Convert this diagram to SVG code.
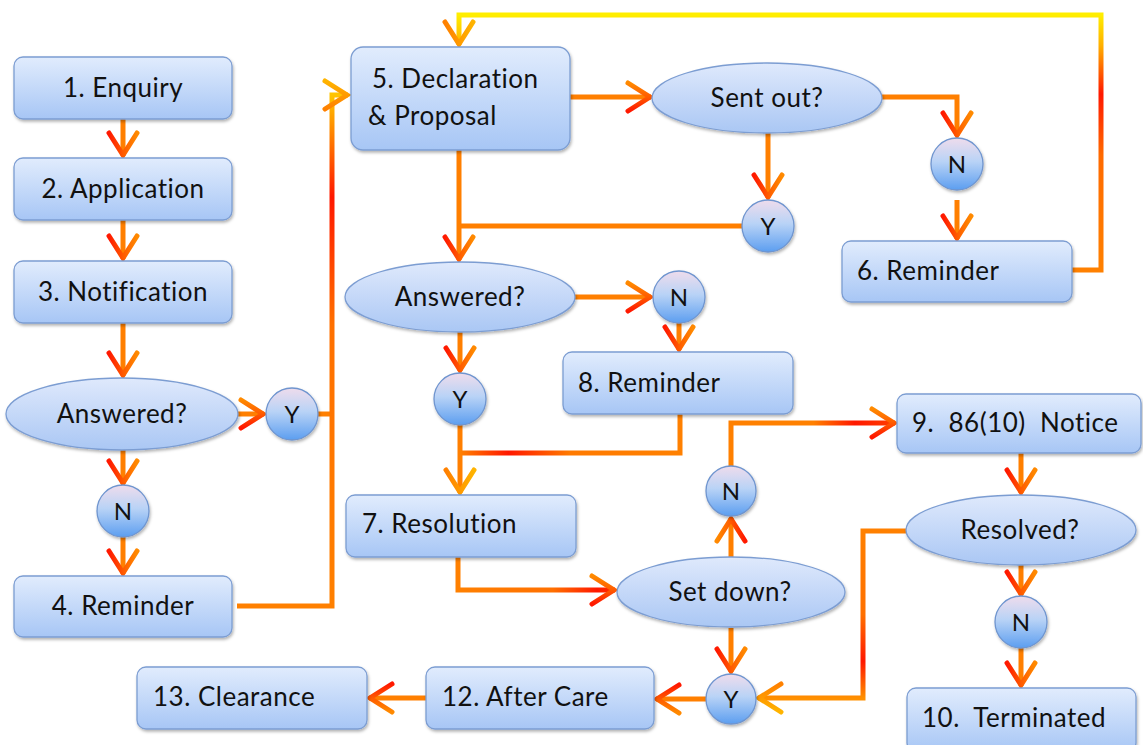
<svg xmlns="http://www.w3.org/2000/svg" width="1143" height="745" viewBox="0 0 1143 745">
<defs>
<linearGradient id="boxG" x1="0" y1="0" x2="0" y2="1">
<stop offset="0" stop-color="#e1ecfd"/><stop offset="1" stop-color="#a7c6f5"/>
</linearGradient>
<linearGradient id="ellG" x1="0" y1="0" x2="0" y2="1">
<stop offset="0" stop-color="#dfe9fc"/><stop offset="1" stop-color="#aac7f4"/>
</linearGradient>
<linearGradient id="cirG" x1="0" y1="0" x2="0" y2="1">
<stop offset="0" stop-color="#efdcec"/><stop offset="0.45" stop-color="#b9d3f6"/><stop offset="1" stop-color="#5c9ef0"/>
</linearGradient>
<linearGradient id="ahg" x1="0" y1="0" x2="0" y2="1">
<stop offset="0" stop-color="#ff8a00"/><stop offset="0.5" stop-color="#ff5a00"/><stop offset="1" stop-color="#ff1800"/>
</linearGradient>
<linearGradient id="ahyg" x1="0" y1="0" x2="0" y2="1">
<stop offset="0" stop-color="#ffb400"/><stop offset="1" stop-color="#ff8000"/>
</linearGradient>
<linearGradient id="gTrunk" gradientUnits="userSpaceOnUse" x1="0" y1="606" x2="0" y2="95">
<stop offset="0" stop-color="#ff8000"/><stop offset="0.55" stop-color="#ff7000"/><stop offset="0.8" stop-color="#ff1800"/><stop offset="0.95" stop-color="#ff9a00"/><stop offset="1" stop-color="#ffc400"/>
</linearGradient>
<linearGradient id="gLoop" gradientUnits="userSpaceOnUse" x1="0" y1="270" x2="0" y2="15">
<stop offset="0" stop-color="#ff8000"/><stop offset="0.45" stop-color="#ff6a00"/><stop offset="0.69" stop-color="#ff1800"/><stop offset="0.88" stop-color="#ffb000"/><stop offset="1" stop-color="#ffee00"/>
</linearGradient>
<linearGradient id="gH8" gradientUnits="userSpaceOnUse" x1="460" y1="0" x2="680" y2="0">
<stop offset="0" stop-color="#ff8000"/><stop offset="0.22" stop-color="#ff1800"/><stop offset="0.5" stop-color="#ff7a00"/><stop offset="1" stop-color="#ff8000"/>
</linearGradient>
<linearGradient id="gH7" gradientUnits="userSpaceOnUse" x1="458" y1="0" x2="616" y2="0">
<stop offset="0" stop-color="#ff8000"/><stop offset="0.6" stop-color="#ff7000"/><stop offset="0.88" stop-color="#ff1800"/><stop offset="1" stop-color="#ff3000"/>
</linearGradient>
<linearGradient id="gH9" gradientUnits="userSpaceOnUse" x1="731" y1="0" x2="896" y2="0">
<stop offset="0" stop-color="#ff8000"/><stop offset="0.5" stop-color="#ff8000"/><stop offset="0.75" stop-color="#ff1800"/><stop offset="1" stop-color="#ff4000"/>
</linearGradient>
<linearGradient id="gRes" gradientUnits="userSpaceOnUse" x1="0" y1="531" x2="0" y2="698">
<stop offset="0" stop-color="#ff8000"/><stop offset="0.5" stop-color="#ff7000"/><stop offset="0.78" stop-color="#ff1800"/><stop offset="1" stop-color="#ff9000"/>
</linearGradient>
<marker id="ah" markerUnits="userSpaceOnUse" markerWidth="40" markerHeight="40" viewBox="-30 -20 40 40" refX="0" refY="0" orient="auto" overflow="visible">
<path d="M-23,-14 L-1,0 L-23,14" fill="none" stroke="url(#ahg)" stroke-width="5" stroke-linejoin="miter" stroke-linecap="round"/>
</marker>
<marker id="ahy" markerUnits="userSpaceOnUse" markerWidth="40" markerHeight="40" viewBox="-30 -20 40 40" refX="0" refY="0" orient="auto" overflow="visible">
<path d="M-23,-14 L-1,0 L-23,14" fill="none" stroke="url(#ahyg)" stroke-width="5" stroke-linejoin="miter" stroke-linecap="round"/>
</marker>
<filter id="sh" x="-10%" y="-10%" width="120%" height="130%">
<feDropShadow dx="1" dy="2" stdDeviation="1.5" flood-color="#000" flood-opacity="0.3"/>
</filter>
</defs>
<style>
.box{fill:url(#boxG);stroke:#7c9dd2;stroke-width:1.3;filter:url(#sh)}
.ell{fill:url(#ellG);stroke:#7c9dd2;stroke-width:1.3;filter:url(#sh)}
.cir{fill:url(#cirG);stroke:#6f95cf;stroke-width:1.3;filter:url(#sh)}
text{font-family:Lato,"Liberation Sans",sans-serif;font-size:26px;letter-spacing:0.5px;fill:#111}
.c{text-anchor:middle}
.k{font-size:24px;letter-spacing:0}
.con{fill:none;stroke:#ff7f00;stroke-width:5;stroke-linejoin:miter}
</style>
<rect width="1143" height="745" fill="#ffffff"/>
<g id="connectors">
<path class="con" d="M123,119 V156" marker-end="url(#ah)"/>
<path class="con" d="M123,220 V259" marker-end="url(#ah)"/>
<path class="con" d="M123,323 V376" marker-end="url(#ah)"/>
<path class="con" d="M238,414 H264" marker-end="url(#ah)"/>
<path class="con" d="M123,450 V484" marker-end="url(#ah)"/>
<path class="con" d="M123,537 V574" marker-end="url(#ah)"/>
<path class="con" d="M318,414 H332"/>
<path class="con" d="M237,606 H332 V95 H348" style="stroke:url(#gTrunk)" marker-end="url(#ahy)"/>
<path class="con" d="M570,97 H651" marker-end="url(#ah)"/>
<path class="con" d="M768,133 V198" marker-end="url(#ah)"/>
<path class="con" d="M882,97 H957 V136" marker-end="url(#ah)"/>
<path class="con" d="M957,200 V239" marker-end="url(#ah)"/>
<path class="con" d="M1072,270 H1101 V15 H459 V45" style="stroke:url(#gLoop)" marker-end="url(#ahy)"/>
<path class="con" d="M459,150 V260" marker-end="url(#ah)"/>
<path class="con" d="M742,226 H459"/>
<path class="con" d="M575,297 H651" marker-end="url(#ah)"/>
<path class="con" d="M679,323 V350" marker-end="url(#ah)"/>
<path class="con" d="M460,332 V371" marker-end="url(#ah)"/>
<path class="con" d="M460,425 V493" marker-end="url(#ahy)"/>
<path class="con" d="M680,414 V453 H460" style="stroke:url(#gH8)"/>
<path class="con" d="M458,557 V590 H615" style="stroke:url(#gH7)" marker-end="url(#ah)"/>
<path class="con" d="M731,557 V518" marker-end="url(#ah)"/>
<path class="con" d="M731,466 V423 H895" style="stroke:url(#gH9)" marker-end="url(#ah)"/>
<path class="con" d="M1021,453 V493" marker-end="url(#ah)"/>
<path class="con" d="M1021,565 V595" marker-end="url(#ah)"/>
<path class="con" d="M1021,648 V686" marker-end="url(#ah)"/>
<path class="con" d="M906,531 H863 V698 H758" style="stroke:url(#gRes)" marker-end="url(#ahy)"/>
<path class="con" d="M731,628 V672" marker-end="url(#ah)"/>
<path class="con" d="M706,699 H656" marker-end="url(#ah)"/>
<path class="con" d="M426,698 H369" marker-end="url(#ah)"/>
</g>
<g id="n1"><rect class="box" x="14" y="57" width="218" height="62" rx="9"/><text class="c" x="123" y="97">1. Enquiry</text></g>
<g id="n2"><rect class="box" x="14" y="158" width="218" height="62" rx="9"/><text class="c" x="123" y="198">2. Application</text></g>
<g id="n3"><rect class="box" x="14" y="261" width="218" height="62" rx="9"/><text class="c" x="123" y="301">3. Notification</text></g>
<g id="d1"><ellipse class="ell" cx="122" cy="414" rx="116" ry="36"/><text class="c" x="122" y="423">Answered?</text></g>
<g id="y1"><circle class="cir" cx="292" cy="414" r="26"/><text class="c k" x="292" y="423">Y</text></g>
<g id="nn1"><circle class="cir" cx="123" cy="511" r="26"/><text class="c k" x="123" y="520">N</text></g>
<g id="n4"><rect class="box" x="14" y="576" width="218" height="61" rx="9"/><text class="c" x="123" y="615">4. Reminder</text></g>
<g id="n5"><rect class="box" x="351" y="47" width="219" height="103" rx="12"/><text x="372" y="88">5. Declaration</text><text x="368" y="125">&amp; Proposal</text></g>
<g id="d2"><ellipse class="ell" cx="767" cy="98" rx="115" ry="35"/><text class="c" x="767" y="107">Sent out?</text></g>
<g id="y2"><circle class="cir" cx="768" cy="226" r="26"/><text class="c k" x="768" y="235">Y</text></g>
<g id="nn2"><circle class="cir" cx="957" cy="164" r="26"/><text class="c k" x="957" y="173">N</text></g>
<g id="n6"><rect class="box" x="842" y="241" width="230" height="61" rx="9"/><text x="857" y="280">6. Reminder</text></g>
<g id="d3"><ellipse class="ell" cx="460" cy="297" rx="115" ry="35"/><text class="c" x="460" y="306">Answered?</text></g>
<g id="nn3"><circle class="cir" cx="679" cy="297" r="26"/><text class="c k" x="679" y="306">N</text></g>
<g id="n8"><rect class="box" x="563" y="352" width="230" height="62" rx="9"/><text x="578" y="392">8. Reminder</text></g>
<g id="y3"><circle class="cir" cx="460" cy="399" r="26"/><text class="c k" x="460" y="408">Y</text></g>
<g id="n7"><rect class="box" x="346" y="495" width="230" height="62" rx="9"/><text x="362" y="533">7. Resolution</text></g>
<g id="d4"><ellipse class="ell" cx="731" cy="592" rx="114" ry="35"/><text class="c" x="730" y="601">Set down?</text></g>
<g id="nn4"><circle class="cir" cx="731" cy="491" r="25"/><text class="c k" x="731" y="500">N</text></g>
<g id="n9"><rect class="box" x="897" y="394" width="244" height="59" rx="9"/><text x="912" y="432" xml:space="preserve">9.  86(10)  Notice</text></g>
<g id="d5"><ellipse class="ell" cx="1021" cy="530" rx="115" ry="35"/><text class="c" x="1020" y="539">Resolved?</text></g>
<g id="nn5"><circle class="cir" cx="1021" cy="622" r="26"/><text class="c k" x="1021" y="631">N</text></g>
<g id="n10"><rect class="box" x="907" y="688" width="229" height="64" rx="9"/><text x="922" y="727" xml:space="preserve">10.  Terminated</text></g>
<g id="y4"><circle class="cir" cx="731" cy="699" r="25"/><text class="c k" x="731" y="708">Y</text></g>
<g id="n12"><rect class="box" x="426" y="667" width="228" height="62" rx="9"/><text x="442" y="706">12. After Care</text></g>
<g id="n13"><rect class="box" x="137" y="667" width="230" height="62" rx="9"/><text x="153" y="706">13. Clearance</text></g>
</svg>
